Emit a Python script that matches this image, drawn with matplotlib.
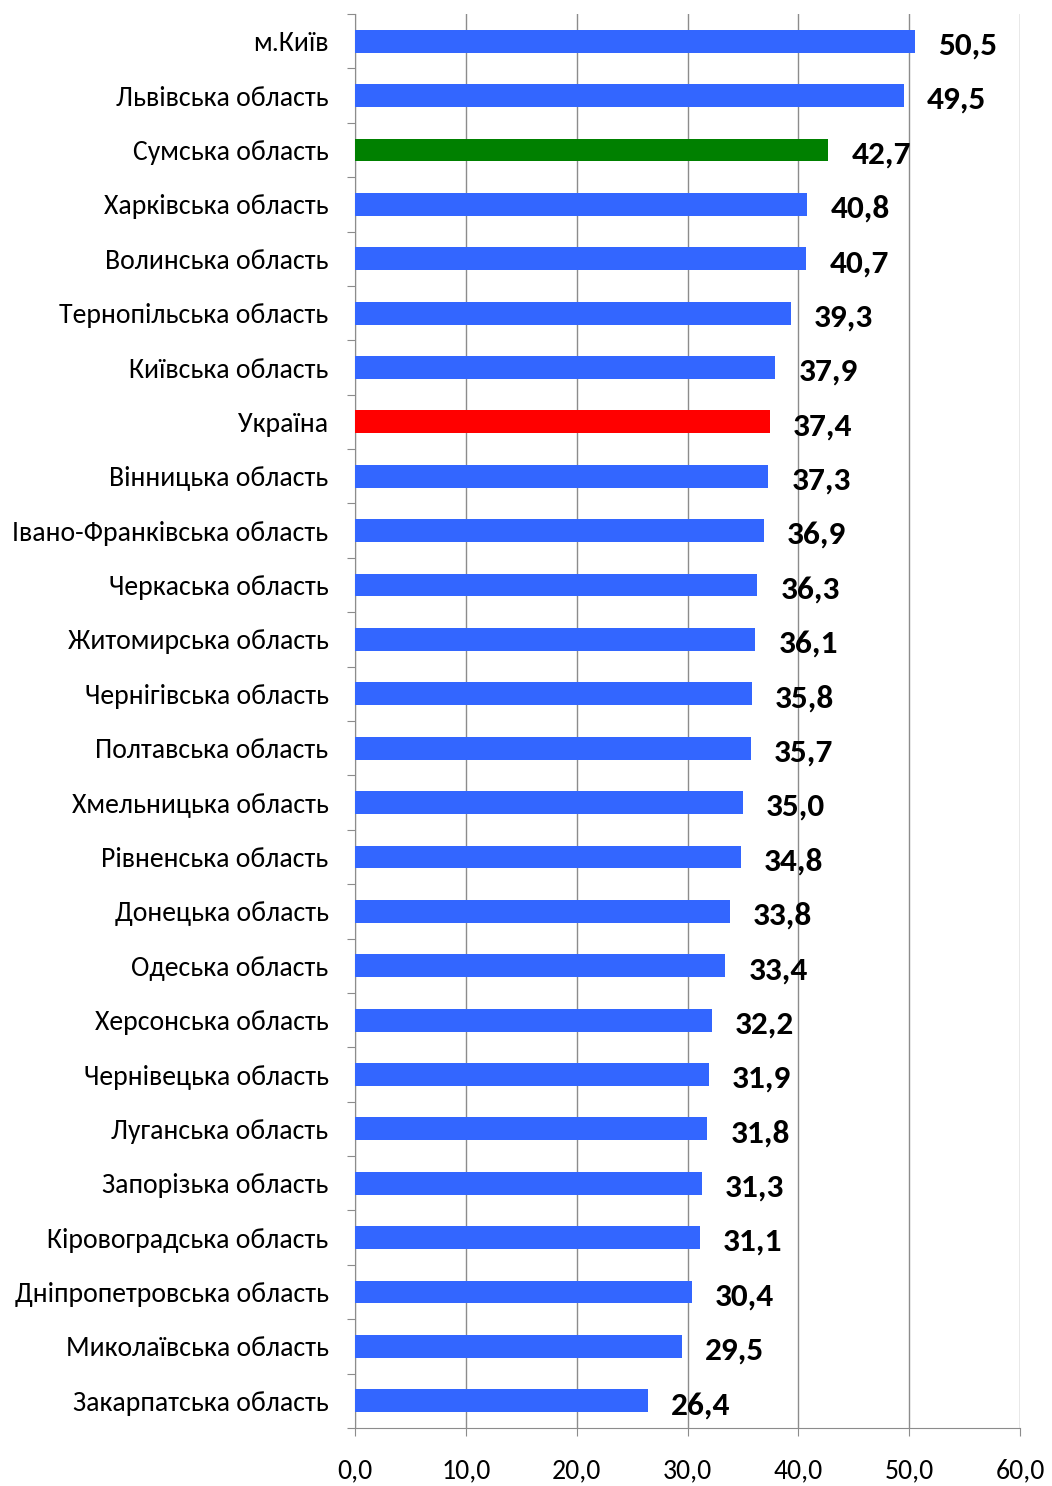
import matplotlib.pyplot as plt
from matplotlib.ticker import FixedLocator

regions = [
    "м.Київ", "Львівська область", "Сумська область", "Харківська область",
    "Волинська область", "Тернопільська область", "Київська область", "Україна",
    "Вінницька область", "Івано-Франківська область", "Черкаська область",
    "Житомирська область", "Чернігівська область", "Полтавська область",
    "Хмельницька область", "Рівненська область", "Донецька область",
    "Одеська область", "Херсонська область", "Чернівецька область",
    "Луганська область", "Запорізька область", "Кіровоградська область",
    "Дніпропетровська область", "Миколаївська область", "Закарпатська область",
]
values = [50.5, 49.5, 42.7, 40.8, 40.7, 39.3, 37.9, 37.4, 37.3, 36.9, 36.3,
          36.1, 35.8, 35.7, 35.0, 34.8, 33.8, 33.4, 32.2, 31.9, 31.8, 31.3,
          31.1, 30.4, 29.5, 26.4]
x_ticks = [0, 10, 20, 30, 40, 50, 60]

highlight = {"Сумська область": "#008000", "Україна": "#FF0000"}
colors = [highlight.get(r, "#3366FF") for r in regions]

plt.rcParams["font.family"] = ["Carlito", "DejaVu Sans"]

fig = plt.figure(figsize=(10.52, 14.86), dpi=100)
ax = fig.add_axes([355 / 1052, 1 - 1428 / 1486, (1020 - 355) / 1052, (1428 - 14) / 1486])

n = len(regions)
pos = list(range(n))
ax.barh(pos, values, height=0.42, color=colors, zorder=3)
ax.set_ylim(n - 0.5, -0.5)
ax.set_xlim(0, 60)

for y, v in zip(pos, values):
    ax.text(v + 2.1, y + 0.08, f"{v:.1f}".replace(".", ","), va="center", ha="left",
            fontsize=24, fontweight="bold", color="black")

ax.set_xticks(x_ticks)
ax.set_xticklabels([f"{t:.1f}".replace(".", ",") for t in x_ticks], fontsize=20)
ax.xaxis.grid(True, color="#8c8c8c", linewidth=1.0, zorder=0)
ax.tick_params(axis="x", length=6, color="#8c8c8c", pad=16)

ax.yaxis.set_major_locator(FixedLocator([p - 0.5 for p in pos] + [n - 0.5]))
ax.yaxis.set_major_formatter(plt.NullFormatter())
ax.yaxis.set_minor_locator(FixedLocator(pos))
ax.set_yticklabels(regions, minor=True, fontsize=20)
ax.tick_params(axis="y", which="major", length=6, color="#8c8c8c")
ax.tick_params(axis="y", which="minor", length=0, pad=19)

for side in ["top", "right"]:
    ax.spines[side].set_visible(False)
for side in ["left", "bottom"]:
    ax.spines[side].set_color("#8c8c8c")

fig.savefig("out.png", dpi=100)
